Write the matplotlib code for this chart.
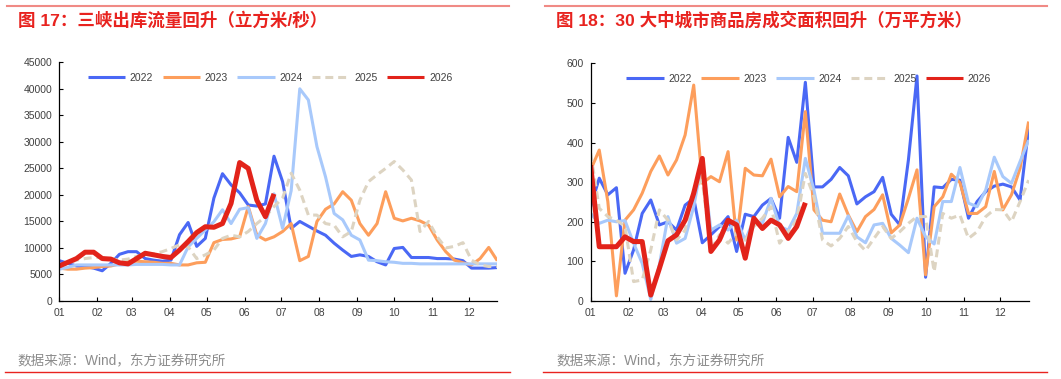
import numpy as np
import matplotlib
matplotlib.use("Agg")
import matplotlib.pyplot as plt
from matplotlib.lines import Line2D

plt.rcParams["font.family"] = ["Liberation Sans", "Noto Sans CJK SC", "DejaVu Sans"]

years = ["2022", "2023", "2024", "2025", "2026"]
month_labels = ["01", "02", "03", "04", "05", "06", "07", "08", "09", "10", "11", "12"]
month_start_days = [0, 31, 59, 90, 120, 151, 181, 212, 243, 273, 304, 334]

# 三峡出库流量, weekly (立方米/秒)
flow_2022 = [7600, 7100, 6600, 6500, 6200, 5700, 7100, 8800, 9300, 9300,
             8000, 7700, 7500, 7700, 12500, 14800, 10300, 11800, 19400, 24000,
             21900, 20400, 18100, 17900, 18300, 27300, 22500, 13700, 15000, 14100,
             13200, 12400, 10900, 9600, 8400, 8700, 8400, 7400, 6800, 9900,
             10100, 8200, 8200, 8200, 8000, 8000, 7900, 7600, 6200, 6200,
             6200, 6300]
flow_2023 = [6200, 6000, 6000, 6200, 6300, 6500, 6600, 7000, 7400, 7500,
             7400, 7300, 7100, 7100, 6800, 6800, 7200, 7300, 11000, 11600,
             11700, 12100, 17800, 12400, 11500, 12100, 13100, 14600, 7600, 8400,
             15000, 17300, 18300, 20600, 19000, 14600, 12400, 14600, 20600, 15600,
             15100, 15600, 15100, 14300, 11500, 9300, 7700, 7200, 6800, 8000,
             10100, 7600]
flow_2024 = [6000, 6350, 6800, 6800, 6800, 6800, 6800, 6800, 6800, 6900,
             6900, 6900, 6900, 6800, 6800, 10200, 11800, 13400, 14950, 17200,
             14600, 17300, 17600, 11800, 14600, 20200, 13700, 20800, 40000, 37900,
             29100, 23400, 16500, 15300, 12400, 11500, 7700, 7600, 7400, 7300,
             7100, 7100, 7000, 7000, 7000, 7000, 7000, 7000, 7000, 7000,
             7000, 7000]
flow_2025 = [6500, 7100, 7700, 8000, 8200, 8200, 8000, 7700, 7900, 8400,
             8700, 8900, 9300, 9900, 10600, 10200, 8000, 8700, 9600, 11800,
             12400, 12100, 13100, 14600, 15900, 17800, 19400, 24100, 20900, 16200,
             16200, 14600, 14300, 12100, 13100, 19000, 22500, 23800, 25000, 26300,
             24700, 22800, 13100, 15000, 12100, 10000, 10300, 11000, 7700, 6800,
             6500, 6500]
flow_2026 = [6600, 7300, 8000, 9200, 9200, 8000, 7900, 7200, 7000, 8000,
             9000, 8700, 8400, 8200, 9600, 11200, 12900, 14000, 13900, 14600,
             18400, 26100, 25000, 19000, 15900, 20200]

# 30大中城市商品房成交面积, weekly (万平方米)
area_2022 = [238, 310, 268, 286, 70, 129, 221, 255, 192, 200,
             179, 242, 259, 147, 167, 188, 213, 125, 219, 213,
             242, 259, 209, 413, 350, 552, 288, 288, 307, 337,
             316, 245, 263, 276, 312, 219, 192, 356, 568, 60,
             288, 286, 307, 305, 209, 251, 276, 290, 295, 288,
             255, 436]
area_2023 = [331, 381, 251, 13, 204, 230, 272, 327, 366, 318,
             356, 419, 545, 297, 314, 301, 377, 154, 335, 318,
             316, 358, 263, 289, 276, 478, 230, 204, 200, 270,
             217, 175, 213, 231, 268, 172, 192, 259, 331, 66,
             238, 263, 320, 299, 221, 221, 238, 327, 230, 268,
             335, 453]
area_2024 = [221, 196, 204, 200, 203, 146, 95, 4, 91, 213,
             146, 158, 238, 356, 179, 192, 179, 204, 154, 204,
             196, 259, 188, 179, 221, 360, 280, 171, 171, 171,
             215, 162, 147, 192, 196, 158, 141, 122, 209, 162,
             144, 251, 251, 337, 247, 238, 280, 363, 314, 297,
             352, 406]
area_2025 = [373, 234, 213, 204, 188, 49, 53, 129, 230, 204,
             154, 179, 280, 305, 129, 167, 146, 171, 154, 188,
             209, 238, 146, 175, 204, 322, 263, 154, 139, 158,
             188, 150, 127, 158, 188, 158, 175, 196, 213, 213,
             74, 221, 209, 217, 158, 175, 213, 231, 230, 200,
             251, 305]
area_2026 = [343, 137, 137, 137, 162, 150, 150, 15, 82, 152,
             167, 204, 272, 360, 125, 154, 204, 192, 108, 209,
             183, 204, 192, 158, 188, 248]

styles = {
    "2022": dict(color="#4a68f5", lw=2.2, ls="-"),
    "2023": dict(color="#fd9e5c", lw=2.2, ls="-"),
    "2024": dict(color="#a8c9fb", lw=2.2, ls="-"),
    "2025": dict(color="#ddd4c2", lw=2.2, ls=(0, (2.6, 1.6))),
    "2026": dict(color="#e2231a", lw=3.6, ls="-"),
}

RED = "#e8231f"
TICK_COLOR = "#404040"


def draw_panel(ax, series, ymax, ystep, legend_x):
    for year, values in zip(years, series):
        days = np.arange(len(values)) * 7
        st = styles[year]
        ax.plot(days, values, color=st["color"], lw=st["lw"], linestyle=st["ls"],
                label=year, solid_capstyle="butt", dash_capstyle="butt")

    ax.set_xlim(0, 357)
    ax.set_ylim(0, ymax)
    ax.set_xticks(month_start_days)
    ax.set_xticklabels(month_labels)
    ax.set_yticks(np.arange(0, ymax + 1, ystep))

    for side in ["top", "right"]:
        ax.spines[side].set_visible(False)
    for side in ["left", "bottom"]:
        ax.spines[side].set_color("black")
        ax.spines[side].set_linewidth(0.9)
    ax.tick_params(axis="both", direction="in", labelsize=7.5, labelcolor=TICK_COLOR,
                   color="black", length=3, width=0.8, pad=5)

    leg = ax.legend(loc="center", bbox_to_anchor=(legend_x, 0.934), ncol=5, frameon=False,
                    fontsize=7.5, handlelength=3.6, handletextpad=0.45, columnspacing=0.9,
                    labelcolor=TICK_COLOR)
    # legend handles are all drawn at the same (thin) width
    for handle in leg.legend_handles:
        handle.set_linewidth(2.2)


fig = plt.figure(figsize=(10.61, 3.79), dpi=100)

ax1 = fig.add_axes([0.0559, 0.2058, 0.4128, 0.6298])
draw_panel(ax1, [flow_2022, flow_2023, flow_2024, flow_2025, flow_2026], 45000, 5000, 0.481)

ax2 = fig.add_axes([0.5567, 0.2058, 0.4128, 0.6272])
draw_panel(ax2, [area_2022, area_2023, area_2024, area_2025, area_2026], 600, 100, 0.498)

# header / footer decoration
H = 379.0
W = 1061.0


def hline(x0, x1, y, color, lw):
    fig.add_artist(Line2D([x0 / W, x1 / W], [1 - y / H, 1 - y / H],
                          transform=fig.transFigure, color=color, lw=lw))


hline(7, 509, 5.7, "#f08a85", 1.5)
hline(545, 1047, 5.7, "#f08a85", 1.5)
hline(5, 510, 371.7, RED, 1.0)
hline(543, 1047, 371.7, RED, 1.0)

fig.text(18 / W, 1 - 19.5 / H, "图 17：三峡出库流量回升（立方米/秒）", color=RED,
         fontsize=12.6, fontweight="bold", va="center", ha="left")
fig.text(556 / W, 1 - 19.5 / H, "图 18：30 大中城市商品房成交面积回升（万平方米）", color=RED,
         fontsize=12.6, fontweight="bold", va="center", ha="left")

fig.text(17 / W, 1 - 361.5 / H, "数据来源：Wind，东方证券研究所", color="#8c8c8c",
         fontsize=9.8, va="center", ha="left")
fig.text(556 / W, 1 - 361.5 / H, "数据来源：Wind，东方证券研究所", color="#8c8c8c",
         fontsize=9.8, va="center", ha="left")

fig.savefig("out.png", dpi=100, facecolor="white")
